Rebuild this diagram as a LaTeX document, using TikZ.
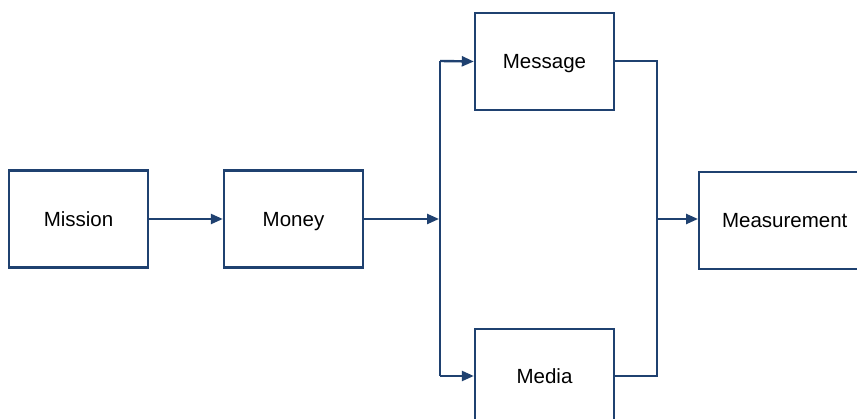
\documentclass[tikz,border=0pt]{standalone}
\usepackage{fontspec}
\setmainfont{Liberation Sans}
\usetikzlibrary{arrows.meta}
\definecolor{lineblue}{HTML}{1F4170}
\begin{document}
\begin{tikzpicture}[x=1pt,y=1pt,
  lbl/.style={font=\fontsize{20.5}{24}\selectfont, text height=16.8pt, text depth=2.2pt, inner sep=0pt},
  box/.style={lbl, draw=lineblue, line width=2.4pt, fill=white, minimum width=139pt, minimum height=97pt},
  conn/.style={draw=lineblue, line width=2.4pt},
  arr/.style={conn, -{Triangle[length=12pt,width=10pt]}}]
\useasboundingbox (0,0) rectangle (857,419);
\clip (0,0) rectangle (857,419);
\fill[white] (0,0) rectangle (857,419);
\node[box] (mission) at (78.5,200) {Mission};
\node[box] (money) at (293.5,200) {Money};
\node[box] (message) at (544.5,357.5) {Message};
\node[box, anchor=north] (media) at (544.5,91) {};
\node[lbl] (medialabel) at (544.5,43) {Media};
\node[box, anchor=west, minimum width=175pt] (measure) at (698,198.5) {\hspace*{-4pt}Measurement};
\coordinate (jl) at (440,200);
\coordinate (jlt) at (440,358);
\coordinate (jlb) at (440,43);
\coordinate (jr) at (657,200);
\coordinate (jrt) at (657,358);
\coordinate (jrb) at (657,43);
\draw[arr] (mission.east) -- (money.west);
\draw[arr] (money.east) -- ([xshift=-1pt]jl);
\draw[conn] (jlt) -- (jlb);
\draw[arr] (jlt) -- (message.west);
\draw[arr] (jlb) -- (jlb -| media.west);
\draw[conn] (message.east |- jrt) -- (jrt) -- (jrb) -- (jrb -| media.east);
\draw[arr] (jr) -- (jr -| measure.west);
\end{tikzpicture}
\end{document}
